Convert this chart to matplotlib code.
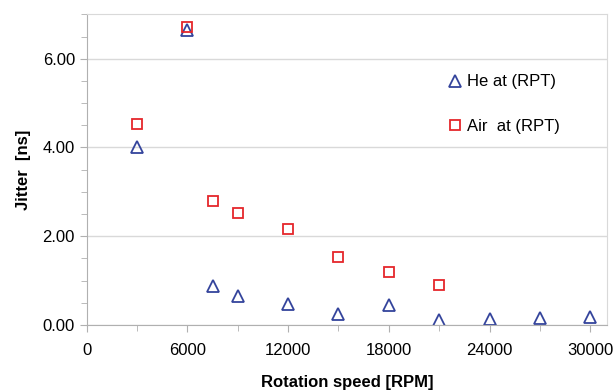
import matplotlib.pyplot as plt
from matplotlib.ticker import MultipleLocator, FormatStrFormatter

plt.rcParams['font.family'] = ['Liberation Sans', 'DejaVu Sans']

# He at RPT
he_rpm = [3000, 6000, 7500, 9000, 12000, 15000, 18000, 21000, 24000, 27000, 30000]
he_jitter = [4.0, 6.65, 0.88, 0.65, 0.46, 0.25, 0.44, 0.10, 0.13, 0.16, 0.17]

# Air at RPT
air_rpm = [3000, 6000, 7500, 9000, 12000, 15000, 18000, 21000]
air_jitter = [4.54, 6.71, 2.80, 2.53, 2.16, 1.54, 1.20, 0.90]

x_ticks = [0, 6000, 12000, 18000, 24000, 30000]

fig, ax = plt.subplots(figsize=(6.15, 3.9), dpi=100)
fig.subplots_adjust(left=0.141, right=0.987, top=0.963, bottom=0.167)

ax.plot(he_rpm, he_jitter, linestyle='none', marker='^', markersize=8,
        markerfacecolor='none', markeredgecolor='#34449c', markeredgewidth=1.3,
        label='He at (RPT)')
ax.plot(air_rpm, air_jitter, linestyle='none', marker='s', markersize=7.5,
        markerfacecolor='none', markeredgecolor='#e5262b', markeredgewidth=1.3,
        label='Air  at (RPT)')

ax.set_xlim(0, 31000)
ax.set_ylim(0, 7)
ax.set_xticks(x_ticks)
ax.xaxis.set_minor_locator(MultipleLocator(3000))
ax.yaxis.set_major_locator(MultipleLocator(2))
ax.yaxis.set_minor_locator(MultipleLocator(0.5))
ax.yaxis.set_major_formatter(FormatStrFormatter('%.2f'))

ax.grid(axis='y', which='major', color='#d9d9d9', linewidth=1)
ax.set_axisbelow(True)

for side in ['top', 'right']:
    ax.spines[side].set_color('#d9d9d9')
for side in ['left', 'bottom']:
    ax.spines[side].set_color('#b0b0b0')

ax.tick_params(which='both', direction='out', color='#b0b0b0', labelsize=12)
ax.tick_params(which='major', length=5)
ax.tick_params(which='minor', length=4)
ax.tick_params(axis='x', pad=8)

ax.set_xlabel('Rotation speed [RPM]', fontsize=12, fontweight='bold', labelpad=12)
ax.set_ylabel('Jitter  [ns]', fontsize=12, fontweight='bold', labelpad=8)

ax.legend(loc='upper left', bbox_to_anchor=(0.66, 0.855), frameon=False,
          fontsize=12, handletextpad=0.1, handlelength=1.2, labelspacing=1.75)

fig.savefig('out.png', dpi=100)
